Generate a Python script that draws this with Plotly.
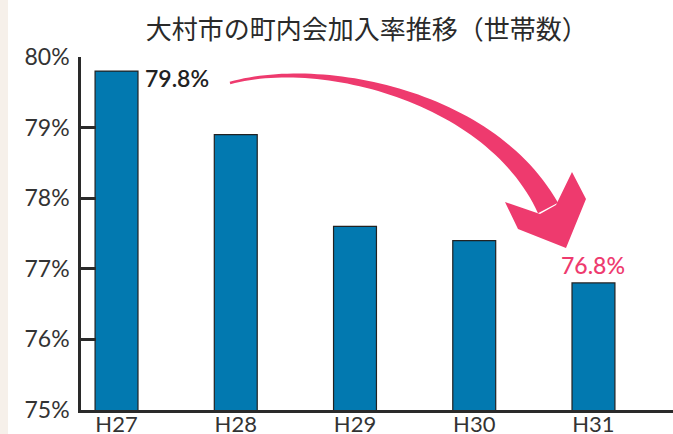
import plotly.graph_objects as go
import numpy as np

categories = ["H27", "H28", "H29", "H30", "H31"]
rates = [79.8, 78.9, 77.6, 77.4, 76.8]
y_ticks = [75, 76, 77, 78, 79, 80]
y_tick_labels = ["75%", "76%", "77%", "78%", "79%", "80%"]
title_text = "大村市の町内会加入率推移（世帯数）"

BAR = "#0279B0"
PINK = "#EE3A6E"
DARK = "#2a2a2a"
FONT = "Lato"

W, H = 673, 434
L, R, T, B = 81, 0, 57, 24
XR = [-0.298, 4.667]
YR = [75, 80]

def to_paper(px, py):
    return (px - L) / (W - L - R), (H - B - py) / (H - T - B)

# Decorative arrow (pixel-space geometry -> paper coords)
P0, P1, P2, P3 = np.array([230, 83.]), np.array([320, 58.]), np.array([490, 95.]), np.array([548, 208.])
ts = np.linspace(0, 1, 60)
pts = ((1-ts)**3)[:, None]*P0 + (3*(1-ts)**2*ts)[:, None]*P1 + (3*(1-ts)*ts**2)[:, None]*P2 + (ts**3)[:, None]*P3
der = ((3*(1-ts)**2)[:, None]*(P1-P0) + (6*(1-ts)*ts)[:, None]*(P2-P1) + (3*ts**2)[:, None]*(P3-P2))
der = der / np.linalg.norm(der, axis=1)[:, None]
nrm = np.stack([-der[:, 1], der[:, 0]], axis=1)
wid = 2.5 + 20 * ts**1.6
upper = pts - nrm * (wid/2)[:, None]
lower = pts + nrm * (wid/2)[:, None]
poly = list(upper) + list(lower[::-1])

def path_from(points):
    s = ""
    for i, (px, py) in enumerate(points):
        x, y = to_paper(px, py)
        s += ("M" if i == 0 else "L") + f"{x:.5f},{y:.5f} "
    return s + "Z"

head = [(572, 172), (586, 199), (566, 248), (518, 229), (505, 202), (540, 214), (556, 205)]

fig = go.Figure(go.Bar(
    x=list(range(len(categories))), y=rates, width=0.36,
    marker=dict(color=BAR, line=dict(color="#222", width=1.2)),
))

fig.update_layout(
    width=W, height=H,
    margin=dict(l=L, r=R, t=T, b=B, autoexpand=False),
    paper_bgcolor="white", plot_bgcolor="white",
    showlegend=False,
    title=dict(text=title_text, x=0.545, xanchor="center", y=0.93, yanchor="middle",
               font=dict(family="Noto Sans CJK JP", size=26, color="#2a2a2a")),
    xaxis=dict(range=XR, tickmode="array", tickvals=list(range(len(categories))), ticktext=categories,
               showgrid=False, zeroline=False, showline=True, linecolor=DARK, linewidth=3,
               ticks="", tickfont=dict(family=FONT, size=22, color="#333"),
               ticklabelstandoff=-7, automargin=False),
    yaxis=dict(range=YR, tickmode="array", tickvals=y_ticks, ticktext=y_tick_labels,
               showgrid=False, zeroline=False, showline=True, linecolor=DARK, linewidth=2.5,
               ticks="inside", ticklen=15, tickwidth=2.5, tickcolor=DARK,
               tickfont=dict(family=FONT, size=23, color="#333"), ticklabelstandoff=4,
               automargin=False),
    bargap=0.6,
)

fig.add_shape(type="rect", xref="paper", yref="paper", x0=to_paper(0, 0)[0], x1=to_paper(8, 0)[0],
              y0=to_paper(0, 434)[1], y1=to_paper(0, 0)[1], fillcolor="#f6f0ea", line_width=0, layer="below")
fig.add_shape(type="path", xref="paper", yref="paper", path=path_from(poly), fillcolor=PINK, line_width=0)
fig.add_shape(type="path", xref="paper", yref="paper", path=path_from(head), fillcolor=PINK, line_width=0)

fig.add_annotation(x=0.18, y=rates[0], xref="x", yref="y", text=f"{rates[0]}%", showarrow=False,
                   xanchor="left", yanchor="middle", xshift=5, yshift=-7,
                   font=dict(family=FONT, size=23, color="#222", weight=600))
fig.add_annotation(x=4, y=rates[4], xref="x", yref="y", text=f"{rates[4]}%", showarrow=False,
                   xanchor="center", yanchor="bottom", yshift=2,
                   font=dict(family=FONT, size=23, color=PINK, weight=500))

fig.write_html("out.html", config={"displayModeBar": False},
               post_script="document.body.style.margin='0';document.body.style.overflow='hidden';")
